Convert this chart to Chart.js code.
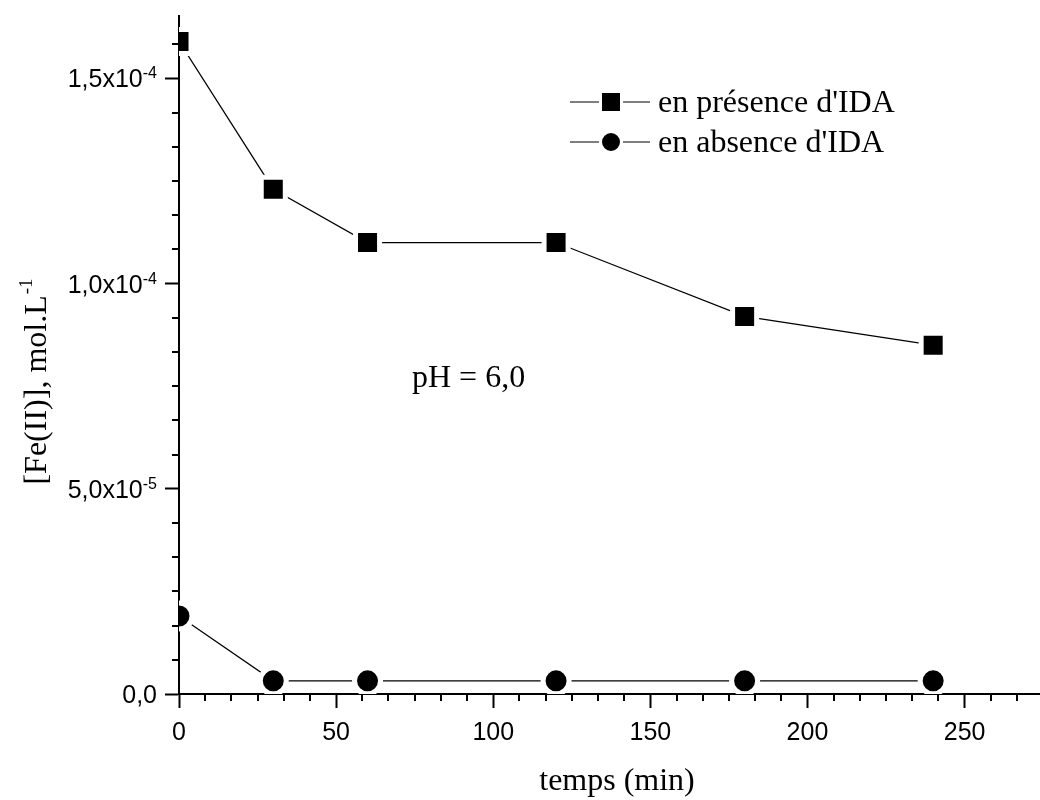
<!DOCTYPE html>
<html>
<head>
<meta charset="utf-8">
<script src="https://cdn.jsdelivr.net/npm/chart.js@4.4.1/dist/chart.umd.min.js"></script>
<style>
  html, body { margin: 0; padding: 0; background: #fff; }
  #wrap { width: 1040px; height: 800px; position: relative; }
</style>
</head>
<body>
<div id="wrap"><canvas id="chart"></canvas></div>
<script>
// data
const temps = [0, 30, 60, 120, 180, 240];
const presenceIDA = [1.59e-4, 1.23e-4, 1.10e-4, 1.10e-4, 0.92e-4, 0.85e-4];
const absenceIDA = [1.9e-5, 3.2e-6, 3.2e-6, 3.2e-6, 3.2e-6, 3.2e-6];
const seriesLabels = ["en présence d'IDA", "en absence d'IDA"];
const xTicks = [0, 50, 100, 150, 200, 250];
const yTicks = [0, 5e-5, 1e-4, 1.5e-4];
const yTickLabels = [["0,0", ""], ["5,0x10", "-5"], ["1,0x10", "-4"], ["1,5x10", "-4"]];

const SANS = "'Liberation Sans', Arial, sans-serif";
const SERIF = "'Liberation Serif', 'Times New Roman', serif";

const toPoints = (ys) => temps.map((t, i) => ({ x: t, y: ys[i] }));

function markerPath(ctx, style, x, y, half) {
  ctx.beginPath();
  if (style === "rect") ctx.rect(x - half, y - half, half * 2, half * 2);
  else ctx.arc(x, y, half, 0, Math.PI * 2);
}

// minor ticks, tick labels, titles, legend and note
const decor = {
  id: "decor",
  afterDraw(chart) {
    const ctx = chart.ctx;
    const xs = chart.scales.x;
    const ys = chart.scales.y;
    const area = chart.chartArea;
    ctx.save();

    // minor ticks
    ctx.strokeStyle = "#000";
    ctx.lineWidth = 2;
    ctx.beginPath();
    for (let i = 1; i * 50 / 6 <= xs.max; i++) {
      if (i % 6 === 0) continue;
      const px = Math.round(xs.getPixelForValue(i * 50 / 6));
      ctx.moveTo(px, area.bottom);
      ctx.lineTo(px, area.bottom + 7);
    }
    for (let i = 1; i * 5e-5 / 6 <= ys.max; i++) {
      if (i % 6 === 0) continue;
      const py = Math.round(ys.getPixelForValue(i * 5e-5 / 6));
      ctx.moveTo(area.left, py);
      ctx.lineTo(area.left - 7, py);
    }
    ctx.stroke();

    ctx.fillStyle = "#000";

    // x tick labels
    ctx.font = "25px " + SANS;
    ctx.textAlign = "center";
    ctx.textBaseline = "alphabetic";
    xTicks.forEach((v) => ctx.fillText(String(v), xs.getPixelForValue(v), area.bottom + 46));

    // y tick labels with exponent
    const right = area.left - 22;
    yTicks.forEach((v, i) => {
      const [main, sup] = yTickLabels[i];
      const py = ys.getPixelForValue(v);
      ctx.textAlign = "right";
      ctx.font = "16px " + SANS;
      const supW = sup ? ctx.measureText(sup).width : 0;
      if (sup) ctx.fillText(sup, right, py);
      ctx.font = "25px " + SANS;
      ctx.fillText(main, right - supW, py + 9);
    });

    // x title
    ctx.font = "32px " + SERIF;
    ctx.textAlign = "center";
    ctx.fillText("temps (min)", 617, 790);

    // y title
    ctx.save();
    ctx.translate(46, 382);
    ctx.rotate(-Math.PI / 2);
    ctx.font = "32px " + SERIF;
    const yMain = "[Fe(II)], mol.L";
    const mainW = ctx.measureText(yMain).width;
    ctx.font = "19px " + SERIF;
    const supW = ctx.measureText("-1").width;
    const x0 = -(mainW + supW) / 2;
    ctx.textAlign = "left";
    ctx.font = "32px " + SERIF;
    ctx.fillText(yMain, x0, 0);
    ctx.font = "19px " + SERIF;
    ctx.fillText("-1", x0 + mainW + 1, -14);
    ctx.restore();

    // note
    ctx.font = "32px " + SERIF;
    ctx.textAlign = "left";
    ctx.fillText("pH = 6,0", 412, 387);

    // legend
    const rows = [["rect", 102], ["circle", 142]];
    rows.forEach(([style, y], i) => {
      ctx.strokeStyle = "#000";
      ctx.lineWidth = 1.2;
      ctx.beginPath();
      ctx.moveTo(570, y);
      ctx.lineTo(650, y);
      ctx.stroke();
      markerPath(ctx, style, 611, y, 10.5);
      ctx.fillStyle = "#000";
      ctx.fill();
      ctx.strokeStyle = "#fff";
      ctx.lineWidth = 3;
      ctx.stroke();
      ctx.fillStyle = "#000";
      ctx.font = "32px " + SERIF;
      ctx.fillText(seriesLabels[i], 658, y + 10);
    });

    ctx.restore();
  }
};

const keepMajor = (step) => (scale) => {
  scale.ticks = scale.ticks.filter((t) => Math.abs(t.value / step - Math.round(t.value / step)) < 1e-6);
};

const axisCommon = {
  z: 1,
  border: { display: true, color: "#000", width: 2 },
  grid: { drawOnChartArea: false, drawTicks: true, tickLength: 14, tickWidth: 2, tickColor: "#000" },
  ticks: { display: false }
};

new Chart(document.getElementById("chart"), {
  type: "line",
  data: {
    datasets: [
      {
        label: seriesLabels[0],
        data: toPoints(presenceIDA),
        borderColor: "#000",
        borderWidth: 1.2,
        pointStyle: "rect",
        pointRadius: 17,
        pointBackgroundColor: "#000",
        pointBorderColor: "#fff",
        pointBorderWidth: 5
      },
      {
        label: seriesLabels[1],
        data: toPoints(absenceIDA),
        borderColor: "#000",
        borderWidth: 1.2,
        pointStyle: "circle",
        pointRadius: 13,
        pointBackgroundColor: "#000",
        pointBorderColor: "#fff",
        pointBorderWidth: 5
      }
    ]
  },
  options: {
    responsive: true,
    maintainAspectRatio: false,
    animation: false,
    events: [],
    layout: { autoPadding: false, padding: { left: 165, right: 0, top: 16, bottom: 92 } },
    plugins: { legend: { display: false }, tooltip: { enabled: false } },
    scales: {
      x: { ...axisCommon, type: "linear", min: 0, max: 274, ticks: { display: false, stepSize: 50 }, afterBuildTicks: keepMajor(50) },
      y: { ...axisCommon, type: "linear", min: 0, max: 1.652e-4, ticks: { display: false, stepSize: 5e-5 }, afterBuildTicks: keepMajor(5e-5) }
    }
  },
  plugins: [decor]
});
</script>
</body>
</html>
